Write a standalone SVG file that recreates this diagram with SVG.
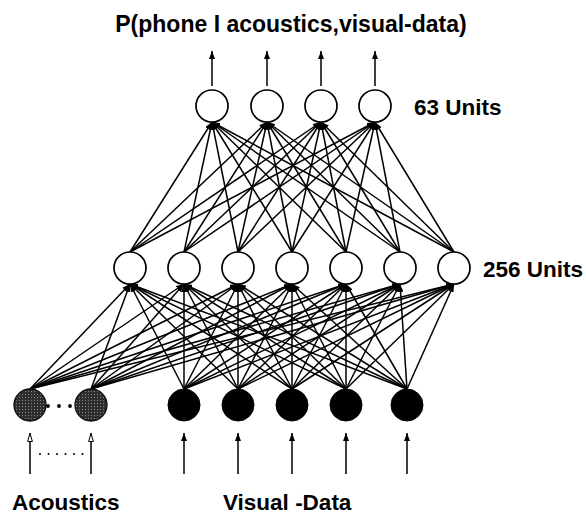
<svg xmlns="http://www.w3.org/2000/svg" width="586" height="516" viewBox="0 0 586 516">
<style>
text{font-family:"Liberation Sans",Arial,sans-serif;font-weight:bold;fill:#000}
.c line{stroke:#000;stroke-width:1.5;marker-end:url(#ah)}
.n{fill:#fff;stroke:#000;stroke-width:1.7}
.v{fill:#000;stroke:#000;stroke-width:1}
.a{fill:url(#stip);stroke:#111;stroke-width:1.3}
</style>
<defs>
<marker id="ah" viewBox="0 0 8 6" refX="8" refY="3" markerWidth="8" markerHeight="6" markerUnits="userSpaceOnUse" orient="auto"><path d="M0,0 L8,3 L0,6 z" fill="#000"/></marker>
<marker id="ho" viewBox="0 0 9 6" refX="9" refY="3" markerWidth="9" markerHeight="6" markerUnits="userSpaceOnUse" orient="auto"><path d="M0.5,0.6 L8.5,3 L0.5,5.4 z" fill="#fff" stroke="#000" stroke-width="1"/></marker>
<pattern id="stip" width="3" height="3" patternUnits="userSpaceOnUse"><rect width="3" height="3" fill="#2e2e2e"/><rect x="1" y="1" width="1" height="1" fill="#8a8a8a"/></pattern>
</defs>
<rect width="586" height="516" fill="#fff"/>
<text x="291" y="32" font-size="23" text-anchor="middle">P(phone I acoustics,visual-data)</text>
<text x="414" y="115" font-size="22.5">63 Units</text>
<text x="483" y="277" font-size="22.5">256 Units</text>
<text x="12" y="510" font-size="22.5">Acoustics</text>
<text x="223" y="510" font-size="22.5">Visual -Data</text>
<g id="connectors" class="c">
<line x1="212" y1="86" x2="212" y2="51"/><line x1="267" y1="86" x2="267" y2="51"/><line x1="321" y1="86" x2="321" y2="51"/><line x1="375" y1="86" x2="375" y2="51"/>
<line x1="130" y1="252" x2="212" y2="122"/><line x1="130" y1="252" x2="267" y2="122"/><line x1="130" y1="252" x2="321" y2="122"/><line x1="130" y1="252" x2="375" y2="122"/>
<line x1="184" y1="252" x2="212" y2="122"/><line x1="184" y1="252" x2="267" y2="122"/><line x1="184" y1="252" x2="321" y2="122"/><line x1="184" y1="252" x2="375" y2="122"/>
<line x1="238" y1="252" x2="212" y2="122"/><line x1="238" y1="252" x2="267" y2="122"/><line x1="238" y1="252" x2="321" y2="122"/><line x1="238" y1="252" x2="375" y2="122"/>
<line x1="292" y1="252" x2="212" y2="122"/><line x1="292" y1="252" x2="267" y2="122"/><line x1="292" y1="252" x2="321" y2="122"/><line x1="292" y1="252" x2="375" y2="122"/>
<line x1="346" y1="252" x2="212" y2="122"/><line x1="346" y1="252" x2="267" y2="122"/><line x1="346" y1="252" x2="321" y2="122"/><line x1="346" y1="252" x2="375" y2="122"/>
<line x1="400" y1="252" x2="212" y2="122"/><line x1="400" y1="252" x2="267" y2="122"/><line x1="400" y1="252" x2="321" y2="122"/><line x1="400" y1="252" x2="375" y2="122"/>
<line x1="454" y1="252" x2="212" y2="122"/><line x1="454" y1="252" x2="267" y2="122"/><line x1="454" y1="252" x2="321" y2="122"/><line x1="454" y1="252" x2="375" y2="122"/>
<line x1="30" y1="389" x2="130" y2="284"/><line x1="30" y1="389" x2="184" y2="284"/><line x1="30" y1="389" x2="238" y2="284"/><line x1="30" y1="389" x2="292" y2="284"/><line x1="30" y1="389" x2="346" y2="284"/><line x1="30" y1="389" x2="400" y2="284"/><line x1="30" y1="389" x2="454" y2="284"/>
<line x1="91" y1="389" x2="130" y2="284"/><line x1="91" y1="389" x2="184" y2="284"/><line x1="91" y1="389" x2="238" y2="284"/><line x1="91" y1="389" x2="292" y2="284"/><line x1="91" y1="389" x2="346" y2="284"/><line x1="91" y1="389" x2="400" y2="284"/><line x1="91" y1="389" x2="454" y2="284"/>
<line x1="184" y1="389" x2="130" y2="284"/><line x1="184" y1="389" x2="184" y2="284"/><line x1="184" y1="389" x2="238" y2="284"/><line x1="184" y1="389" x2="292" y2="284"/><line x1="184" y1="389" x2="346" y2="284"/><line x1="184" y1="389" x2="400" y2="284"/><line x1="184" y1="389" x2="454" y2="284"/>
<line x1="238" y1="389" x2="130" y2="284"/><line x1="238" y1="389" x2="184" y2="284"/><line x1="238" y1="389" x2="238" y2="284"/><line x1="238" y1="389" x2="292" y2="284"/><line x1="238" y1="389" x2="346" y2="284"/><line x1="238" y1="389" x2="400" y2="284"/><line x1="238" y1="389" x2="454" y2="284"/>
<line x1="292" y1="389" x2="130" y2="284"/><line x1="292" y1="389" x2="184" y2="284"/><line x1="292" y1="389" x2="238" y2="284"/><line x1="292" y1="389" x2="292" y2="284"/><line x1="292" y1="389" x2="346" y2="284"/><line x1="292" y1="389" x2="400" y2="284"/><line x1="292" y1="389" x2="454" y2="284"/>
<line x1="346" y1="389" x2="130" y2="284"/><line x1="346" y1="389" x2="184" y2="284"/><line x1="346" y1="389" x2="238" y2="284"/><line x1="346" y1="389" x2="292" y2="284"/><line x1="346" y1="389" x2="346" y2="284"/><line x1="346" y1="389" x2="400" y2="284"/><line x1="346" y1="389" x2="454" y2="284"/>
<line x1="407" y1="389" x2="130" y2="284"/><line x1="407" y1="389" x2="184" y2="284"/><line x1="407" y1="389" x2="238" y2="284"/><line x1="407" y1="389" x2="292" y2="284"/><line x1="407" y1="389" x2="346" y2="284"/><line x1="407" y1="389" x2="400" y2="284"/><line x1="407" y1="389" x2="454" y2="284"/>
<line x1="30" y1="474" x2="30" y2="433" style="marker-end:url(#ho)"/><line x1="91" y1="474" x2="91" y2="433" style="marker-end:url(#ho)"/>
<line x1="184" y1="474" x2="184" y2="433"/><line x1="238" y1="474" x2="238" y2="433"/><line x1="292" y1="474" x2="292" y2="433"/><line x1="346" y1="474" x2="346" y2="433"/><line x1="407" y1="474" x2="407" y2="433"/>
</g>
<g id="out1"><circle class="n" cx="212" cy="106" r="16"/></g>
<g id="out2"><circle class="n" cx="267" cy="106" r="16"/></g>
<g id="out3"><circle class="n" cx="321" cy="106" r="16"/></g>
<g id="out4"><circle class="n" cx="375" cy="106" r="16"/></g>
<g id="hid1"><circle class="n" cx="130" cy="268" r="16"/></g>
<g id="hid2"><circle class="n" cx="184" cy="268" r="16"/></g>
<g id="hid3"><circle class="n" cx="238" cy="268" r="16"/></g>
<g id="hid4"><circle class="n" cx="292" cy="268" r="16"/></g>
<g id="hid5"><circle class="n" cx="346" cy="268" r="16"/></g>
<g id="hid6"><circle class="n" cx="400" cy="268" r="16"/></g>
<g id="hid7"><circle class="n" cx="454" cy="268" r="16"/></g>
<g id="ac1"><circle class="a" cx="30" cy="405" r="16"/></g>
<g id="ac2"><circle class="a" cx="91" cy="405" r="16"/></g>
<g id="acdots" fill="#000"><circle cx="48" cy="406" r="1.9"/><circle cx="59" cy="406" r="1.9"/><circle cx="70" cy="406" r="1.9"/></g>
<g id="vis1"><circle class="v" cx="184" cy="405" r="16"/></g>
<g id="vis2"><circle class="v" cx="238" cy="405" r="16"/></g>
<g id="vis3"><circle class="v" cx="292" cy="405" r="16"/></g>
<g id="vis4"><circle class="v" cx="346" cy="405" r="16"/></g>
<g id="vis5"><circle class="v" cx="407" cy="405" r="16"/></g>
<g id="indots" fill="#000"><circle cx="40" cy="454" r="1"/><circle cx="48.5" cy="454" r="1"/><circle cx="57" cy="454" r="1"/><circle cx="65.5" cy="454" r="1"/><circle cx="74" cy="454" r="1"/><circle cx="82.5" cy="454" r="1"/></g>
</svg>
